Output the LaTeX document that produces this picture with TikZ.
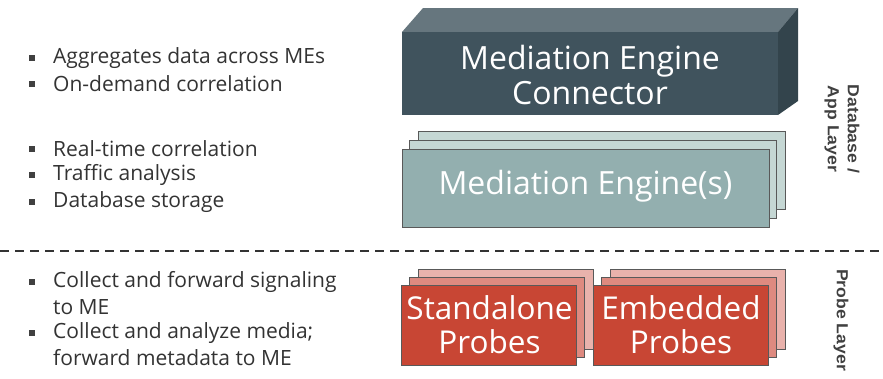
\documentclass[tikz,border=0pt]{standalone}
\usepackage{fontspec}
\setmainfont{Open Sans}
\newfontfamily\labfont{Liberation Sans}
\begin{document}
\begin{tikzpicture}[x=1pt,y=-1pt,
  txt/.style={anchor=west,inner sep=0pt,text=black!80,font=\fontsize{21}{25}\selectfont},
  bul/.style={fill=black!75,inner sep=0pt,minimum size=6pt},
  edge/.style={draw=black!65,line width=0.8pt},
  mebox/.style={edge,minimum width=367pt,minimum height=78pt,inner sep=0pt},
  prbox/.style={edge,minimum width=175pt,minimum height=80pt,inner sep=0pt},
  boxtext/.style={text=white,align=center,inner sep=0pt},
  sidelab/.style={rotate=-90,xscale=1.1,align=center,text=black!75,inner sep=0pt,font=\labfont\bfseries\fontsize{16}{20}\selectfont}
]
\useasboundingbox (0,0) rectangle (883,378);
\definecolor{mecfront}{HTML}{40535D}
\definecolor{mectop}{HTML}{66767E}
\definecolor{mecside}{HTML}{33444C}
\definecolor{mefront}{HTML}{93AFAF}
\definecolor{meback}{HTML}{C5D7D4}
\definecolor{prfront}{HTML}{C84634}
\definecolor{prmid}{HTML}{DE8A80}
\definecolor{prback}{HTML}{E9B2AC}

% Mediation Engine Connector (3D block)
\fill[mectop] (402,32) -- (423,8) -- (798,8) -- (778,32) -- cycle;
\fill[mecside] (778,32) -- (798,8) -- (798,101) -- (778,115) -- cycle;
\node[fill=mecfront,minimum width=376pt,minimum height=83pt,inner sep=0pt] (mec) at (590,73.5) {};
\node[boxtext,font=\fontsize{32}{35}\selectfont] (mectext) at (590,75) {Mediation Engine\\Connector};

% Mediation Engine(s) stack
\node[mebox,fill=meback] (me3) at (601.5,170) {};
\node[mebox,fill=meback] (me2) at (593,179) {};
\node[mebox,fill=mefront] (me1) at (585.5,188) {};
\node[boxtext,font=\fontsize{32}{35}\selectfont] (metext) at (585.5,186) {Mediation Engine(s)};

% Probes
\node[prbox,fill=prback] (sp3) at (505.5,309) {};
\node[prbox,fill=prmid] (sp2) at (497,317) {};
\node[prbox,fill=prfront] (sp1) at (489,325) {};
\node[boxtext,font=\fontsize{31.5}{34}\selectfont] (sptext) at (489.5,325) {Standalone\\Probes};
\node[prbox,fill=prback] (ep3) at (697.5,309) {};
\node[prbox,fill=prmid] (ep2) at (689,317) {};
\node[prbox,fill=prfront] (ep1) at (681,325) {};
\node[boxtext,font=\fontsize{31.5}{34}\selectfont] (eptext) at (681,325) {Embedded\\Probes};

% Dashed separator
\draw[black!80,line width=1.3pt,dash pattern=on 9pt off 6pt] (0,251) -- (883,251);

% Side labels
\node[sidelab] (dblab) at (842,129) {Database /\\App Layer};
\node[sidelab] (prlab) at (841,320) {Probe Layer};

% Bullets
\node[bul] (b1) at (32,58) {};
\node[txt] (t1) at (53,58) {Aggregates data across MEs};
\node[bul] (b2) at (32,84) {};
\node[txt] (t2) at (53,84) {On-demand correlation};

\node[bul] (b3) at (32,149) {};
\node[txt] (t3) at (53,149) {Real-time correlation};
\node[bul] (b4) at (32,175) {};
\node[txt] (t4) at (53,175) {Traffic analysis};
\node[bul] (b5) at (32,202) {};
\node[txt] (t5) at (53,202) {Database storage};

\node[bul] (b6) at (32,282) {};
\node[txt] (t6) at (53,282) {Collect and forward signaling};
\node[txt] (t6b) at (53,307) {to ME};
\node[bul] (b7) at (32,333) {};
\node[txt] (t7) at (53,333) {Collect and analyze media;};
\node[txt] (t7b) at (53,358) {forward metadata to ME};
\end{tikzpicture}
\end{document}
